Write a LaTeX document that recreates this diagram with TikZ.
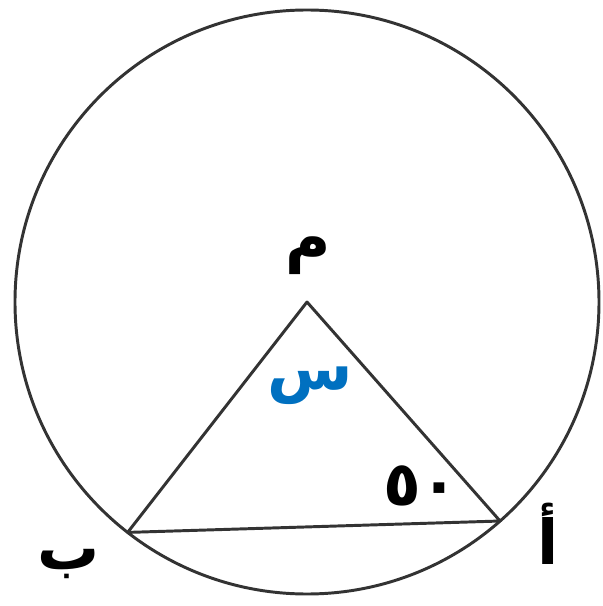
\documentclass[tikz,border=0pt]{standalone}
\usepackage{fontspec}
\newfontfamily\arabicfont[Script=Arabic]{DejaVu Sans}
\TeXXeTstate=1
\definecolor{labelblue}{HTML}{0070C0}
\tikzset{
  edge/.style={line width=2.1pt, black!80},
  lbl/.style={font=\arabicfont\bfseries\fontsize{44}{52}\selectfont, inner sep=0pt}
}
\begin{document}
\begin{tikzpicture}
  \useasboundingbox (-7.675,-7.6) rectangle (7.4,7.55);
  % Circle with centre M
  \coordinate (M) at (0,0);
  \draw[edge] (M) circle (7.3);

  % Points A and B on the circle
  \coordinate (A) at (-48.6:7.3);
  \coordinate (B) at (-127.9:7.3);

  % Triangle M A B
  \draw[edge, line join=round] (M) -- (A) -- (B) -- cycle;

  % Labels
  \node[lbl] (labM) at (0.025,1.15) {\beginR م\endR};
  \node[lbl] (labA) at (6.025,-5.8) {\beginR أ\endR};
  \node[lbl] (labB) at (-5.95,-6.55) {\beginR ب\endR};
  \node[lbl, labelblue] (angX) at (0.075,-2.1) {\beginR س\endR};
  \node[lbl] (angA) at (2.85,-4.6) {٥٠};
\end{tikzpicture}
\end{document}
